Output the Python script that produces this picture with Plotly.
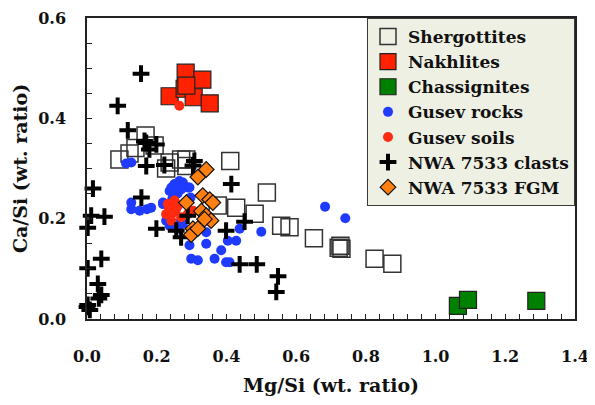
import plotly.graph_objects as go

# ---- data ----
sherg_x = [0.093, 0.122, 0.139, 0.168, 0.194, 0.227, 0.237, 0.270, 0.285, 0.285, 0.411,
           0.375, 0.428, 0.481, 0.516, 0.557, 0.581, 0.651, 0.722, 0.730, 0.727, 0.825, 0.876]
sherg_y = [0.318, 0.330, 0.341, 0.366, 0.346, 0.300, 0.312, 0.318, 0.318, 0.305, 0.315,
           0.226, 0.222, 0.210, 0.252, 0.186, 0.183, 0.161, 0.142, 0.140, 0.146, 0.120, 0.110]

nakh_x = [0.283, 0.331, 0.237, 0.280, 0.306, 0.352, 0.285]
nakh_y = [0.491, 0.477, 0.444, 0.459, 0.442, 0.430, 0.465]

chas_x = [1.064, 1.093, 1.289]
chas_y = [0.026, 0.038, 0.036]

rocks_x = [0.112, 0.127, 0.127, 0.127, 0.151, 0.172, 0.184, 0.218, 0.237, 0.242, 0.251,
           0.265, 0.275, 0.289, 0.294, 0.297, 0.218, 0.227, 0.237, 0.251, 0.261, 0.275,
           0.294, 0.299, 0.318, 0.342, 0.342, 0.366, 0.385, 0.399, 0.404, 0.428, 0.438,
           0.500, 0.683, 0.741, 0.409, 0.260, 0.270, 0.245, 0.255]
rocks_y = [0.310, 0.312, 0.232, 0.219, 0.216, 0.219, 0.222, 0.232, 0.255, 0.262, 0.269,
           0.275, 0.272, 0.262, 0.262, 0.242, 0.229, 0.196, 0.186, 0.190, 0.180, 0.190,
           0.147, 0.120, 0.117, 0.150, 0.173, 0.120, 0.137, 0.113, 0.156, 0.156, 0.180,
           0.174, 0.224, 0.201, 0.113, 0.250, 0.258, 0.240, 0.265]

soils_x = [0.265, 0.232, 0.246, 0.227, 0.261, 0.251, 0.270, 0.242, 0.289, 0.304, 0.235, 0.255]
soils_y = [0.425, 0.229, 0.212, 0.209, 0.226, 0.236, 0.203, 0.196, 0.209, 0.216, 0.220, 0.218]

clast_x = [0.155, 0.088, 0.117, 0.170, 0.199, 0.179, 0.165, 0.170, 0.222, 0.304, 0.308,
           0.414, 0.017, 0.156, 0.012, 0.050, 0.002, 0.199, 0.256, 0.270, 0.289, 0.399,
           0.452, 0.041, 0.002, 0.031, 0.041, 0.034, 0.002, 0.008, 0.000, 0.438, 0.487,
           0.548, 0.543]
clast_y = [0.489, 0.425, 0.376, 0.351, 0.348, 0.338, 0.355, 0.305, 0.307, 0.306, 0.315,
           0.269, 0.260, 0.242, 0.206, 0.204, 0.182, 0.180, 0.176, 0.163, 0.206, 0.176,
           0.194, 0.120, 0.101, 0.070, 0.048, 0.041, 0.028, 0.018, 0.024, 0.109, 0.109,
           0.085, 0.054]

fgm_x = [0.342, 0.318, 0.285, 0.332, 0.352, 0.361, 0.328, 0.342, 0.356, 0.304, 0.299, 0.318, 0.337]
fgm_y = [0.298, 0.283, 0.232, 0.246, 0.238, 0.232, 0.215, 0.206, 0.196, 0.180, 0.168, 0.180, 0.199]

x_ticks = [0.0, 0.2, 0.4, 0.6, 0.8, 1.0, 1.2, 1.4]
y_ticks = [0.0, 0.2, 0.4, 0.6]

FONT = "DejaVu Serif"

fig = go.Figure()

def add(name, xs, ys, symbol, size, color, lcolor, lwidth, group):
    fig.add_trace(go.Scatter(
        x=xs, y=ys, mode="markers", name=name, legendgroup=group,
        cliponaxis=False,
        marker=dict(symbol=symbol, size=size, color=color,
                    line=dict(color=lcolor, width=lwidth)),
    ))

add("Shergottites", sherg_x, sherg_y, "square-open", 17, "#333333", "#333333", 1.5, "a")
add("Nakhlites", nakh_x, nakh_y, "square", 17, "#FF2200", "#222222", 1.2, "b")
add("Chassignites", chas_x, chas_y, "square", 17, "#008000", "#222222", 1.2, "c")
add("Gusev rocks", rocks_x, rocks_y, "circle", 10, "#1F3BFF", "#1F3BFF", 0, "d")
add("Gusev soils", soils_x, soils_y, "circle", 10, "#FF2A10", "#FF2A10", 0, "e")
add("NWA 7533 clasts", clast_x, clast_y, "cross-thin", 12, "#000000", "#000000", 4, "f")
add("NWA 7533 FGM", fgm_x, fgm_y, "diamond", 12, "#FF8010", "#111111", 1.2, "g")

tick_font = dict(family=FONT, size=16, color="#111111", weight="bold")
title_font = dict(family=FONT, size=19, color="#111111", weight="bold")

fig.update_layout(
    width=595, height=405,
    margin=dict(l=79, r=28, t=10, b=94),
    paper_bgcolor="white", plot_bgcolor="white",
    font=dict(family=FONT, color="#111111"),
    showlegend=True,
    legend=dict(
        x=1, y=1, xanchor="right", yanchor="top",
        bgcolor="#EEF0E4", bordercolor="#3A3A3A", borderwidth=1,
        font=dict(family=FONT, size=17, color="#111111", weight="bold"),
        itemwidth=30, tracegroupgap=0,
    ),
    xaxis=dict(
        range=[0, 1.4], tickvals=x_ticks, ticktext=[f"{v:.1f}" for v in x_ticks],
        ticks="inside", ticklen=5, tickcolor="#222222", tickwidth=1,
        minor=dict(dtick=0.04, tick0=0, ticks="inside", ticklen=5, tickcolor="#222222", tickwidth=1),
        showline=True, linecolor="#222222", linewidth=1.5, mirror=True,
        showgrid=False, zeroline=False, automargin=False,
        tickfont=tick_font, ticklabelstandoff=22,
        title=dict(text="Mg/Si (wt. ratio)", font=title_font, standoff=14),
    ),
    yaxis=dict(
        range=[0, 0.6], tickvals=y_ticks, ticktext=[f"{v:.1f}" for v in y_ticks],
        ticks="inside", ticklen=5, tickcolor="#222222", tickwidth=1,
        minor=dict(dtick=0.05, tick0=0, ticks="inside", ticklen=5, tickcolor="#222222", tickwidth=1),
        showline=True, linecolor="#222222", linewidth=1.5, mirror=True,
        showgrid=False, zeroline=False, automargin=False,
        tickfont=tick_font, ticklabelstandoff=16,
        title=dict(text="Ca/Si (wt. ratio)", font=title_font, standoff=6),
    ),
)

fig.write_html("out.html")
